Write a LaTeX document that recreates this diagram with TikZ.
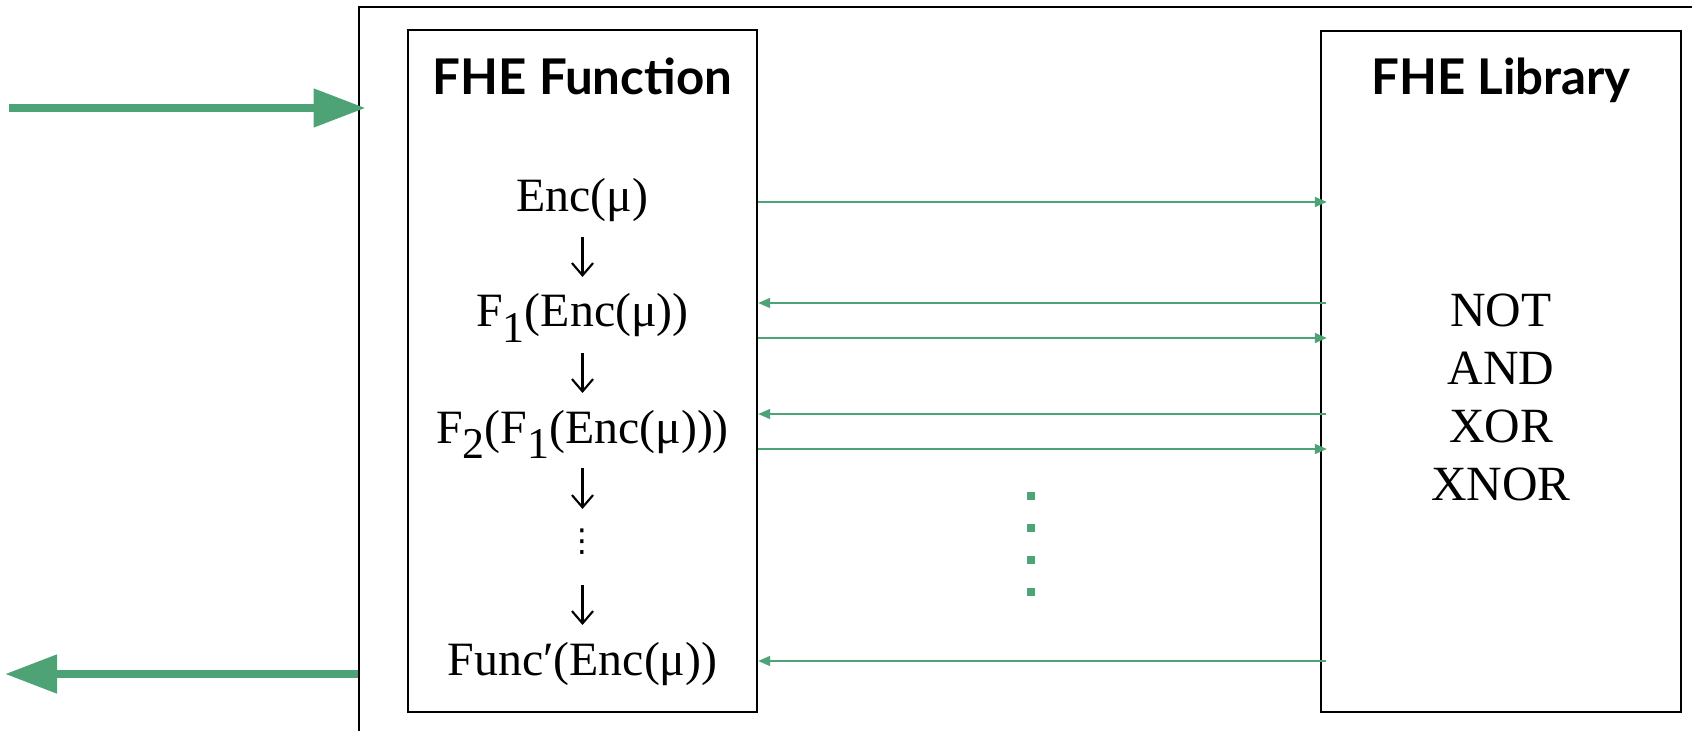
\documentclass[tikz,border=0pt]{standalone}
\usepackage{fontspec}
\setmainfont{Liberation Serif}
\setsansfont{Lato}
\newfontfamily\symfont{DejaVu Sans}
\usetikzlibrary{arrows.meta, calc}
\usepackage{xcolor}
\definecolor{fhegreen}{HTML}{4DA375}
\newcommand{\lowsub}[1]{\raisebox{-4.5pt}{\fontsize{12.5}{14}\selectfont #1}}

\begin{document}
\begin{tikzpicture}[x=0.01cm, y=-0.01cm,
    block/.style={draw=black, line width=0.6pt, inner sep=0pt},
    title/.style={font=\sffamily\bfseries\fontsize{14}{17}\selectfont, anchor=base, inner sep=0pt},
    expr/.style={font=\fontsize{13.6}{17}\selectfont, anchor=base, inner sep=0pt},
    chain/.style={-{Straight Barb[length=3.5pt,width=6pt]}, line width=0.6pt},
    call/.style={fhegreen, line width=0.55pt, -{Triangle[length=3.4pt,width=2.8pt]}},
    io/.style={fhegreen, line width=0.08cm, -{Triangle[length=0.52cm,width=0.37cm]}}]
    \useasboundingbox (0,0) rectangle (1692,731);
    \clip (0,0) rectangle (1692,731);

    % boxes
    \node[block, minimum width=13.61cm, minimum height=7.53cm] (host) at (1039.5,383.5) {};
    \node[block, minimum width=3.49cm, minimum height=6.82cm] (fun) at (582.5,371) {};
    \node[block, minimum width=3.60cm, minimum height=6.81cm] (lib) at (1501,371.5) {};
    \node[title] (funtitle) at (582.5,95) {FHE Function};
    \node[title] (libtitle) at (1501,95) {FHE Library};

    % function chain
    \node[expr] (enc) at (582.5,212) {Enc(μ)};
    \node[expr] (fone) at (582.5,327) {F\lowsub{1}(Enc(μ))};
    \node[expr] (ftwo) at (582.5,443) {F\lowsub{2}(F\lowsub{1}(Enc(μ)))};
    \node[expr, anchor=center, font=\symfont\fontsize{9}{11}\selectfont] (vd) at (582.5,542) {⋮};
    \node[expr] (func) at (582.5,675) {Func′(Enc(μ))};
    \draw[chain] ($(enc.base)+(0,25)$) -- ($(fone.base)+(0,-50)$);
    \draw[chain] ($(fone.base)+(0,26)$) -- ($(ftwo.base)+(0,-50)$);
    \draw[chain] ($(ftwo.base)+(0,25)$) -- ($(vd.center)+(0,-33)$);
    \draw[chain] ($(vd.center)+(0,43)$) -- ($(func.base)+(0,-50)$);

    % library gates
    \node[expr, align=center, font=\fontsize{14}{16.5}\selectfont] (gates) at (1501,501) {NOT\\AND\\XOR\\XNOR};

    % calls between function and library
    \draw[call, shorten >=-0.07cm] (fun.east |- 0,202) -- (lib.west |- 0,202);
    \draw[call, shorten <=-0.06cm] (lib.west |- 0,303) -- (fun.east |- 0,303);
    \draw[call, shorten >=-0.07cm] (fun.east |- 0,338) -- (lib.west |- 0,338);
    \draw[call, shorten <=-0.06cm] (lib.west |- 0,414) -- (fun.east |- 0,414);
    \draw[call, shorten >=-0.07cm] (fun.east |- 0,449) -- (lib.west |- 0,449);
    \draw[call, shorten <=-0.06cm] (lib.west |- 0,661) -- (fun.east |- 0,661);
    \foreach \y in {492,524,556,588}
        \fill[fhegreen] (1027,\y) rectangle ++(8,8);

    % input and output
    \coordinate (feed) at (9,108);
    \coordinate (result) at (5,674);
    \draw[io, shorten >=-0.08cm] (feed) -- (host.west |- feed);
    \draw[io] (host.west |- result) -- (result);
\end{tikzpicture}
\end{document}
